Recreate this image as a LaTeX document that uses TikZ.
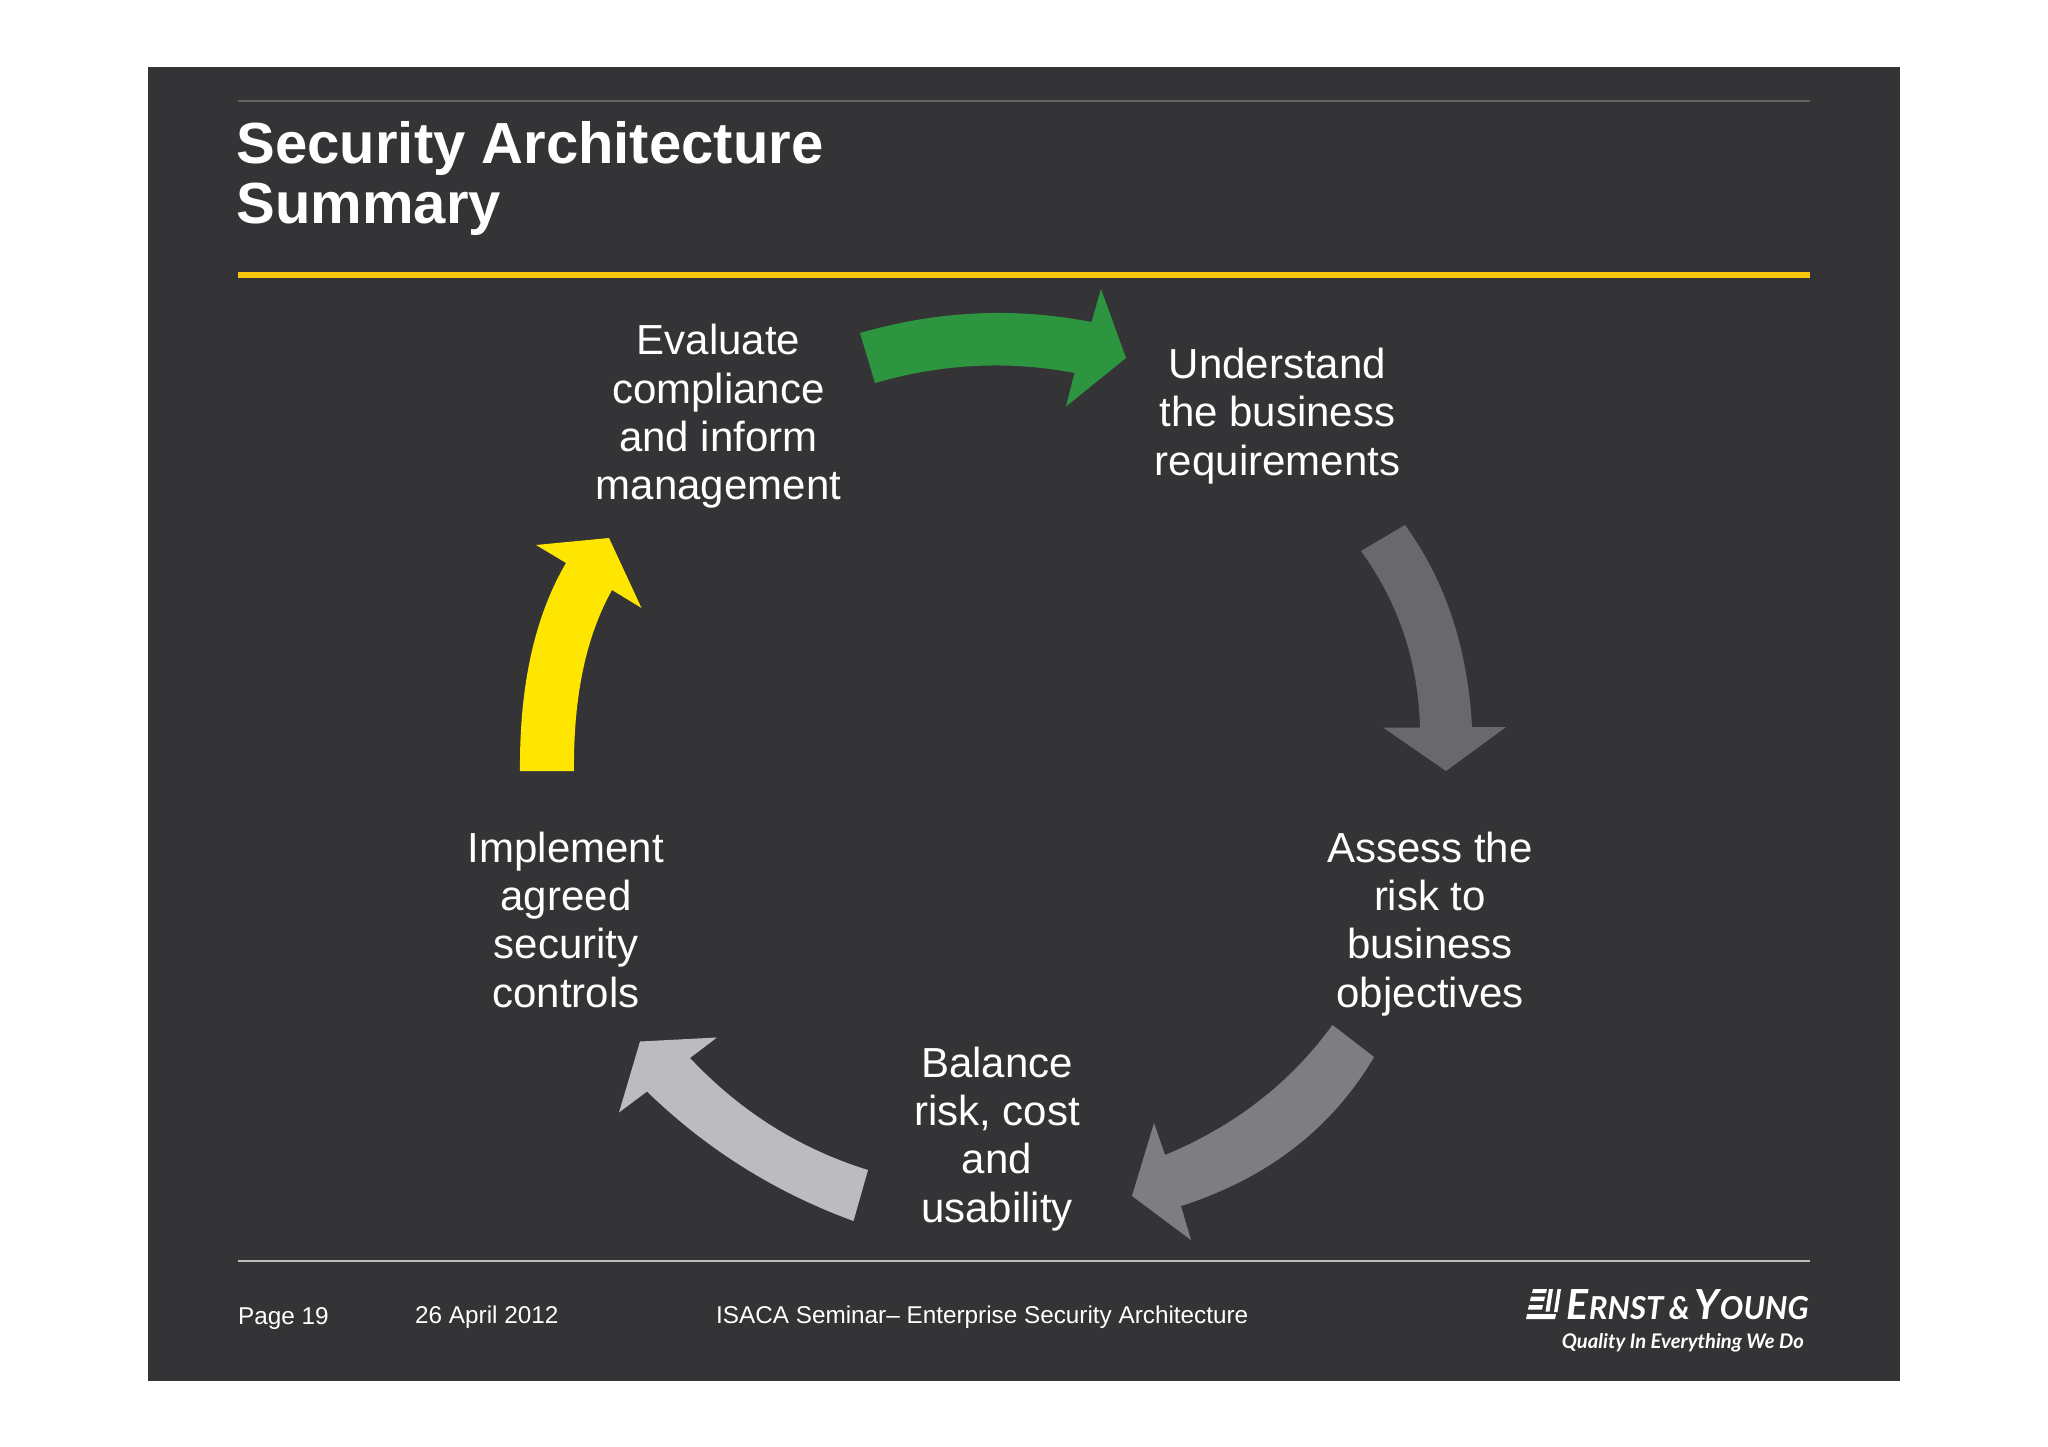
\documentclass[tikz,border=0pt]{standalone}
\usepackage{fontspec}
\usepackage{graphicx}
\setmainfont{Liberation Sans}
\newfontfamily\logofont{Lato}
\definecolor{panel}{HTML}{343335}
\definecolor{arrowA}{HTML}{69686C}
\definecolor{arrowB}{HTML}{7E7D81}
\definecolor{arrowC}{HTML}{BCBBBF}
\definecolor{arrowD}{HTML}{FFE600}
\definecolor{arrowE}{HTML}{2D953F}
\definecolor{gold}{HTML}{F8C60C}
\definecolor{toprule}{HTML}{626262}
\definecolor{lowrule}{HTML}{BDBDBD}
\tikzset{
  steptext/.style={text=white,inner sep=0pt,align=center,font=\fontsize{42}{48.3}\selectfont},
  foottext/.style={text=white,inner sep=0pt,anchor=base west,font=\fontsize{24.3}{28}\selectfont},
  titletext/.style={text=white,inner sep=0pt,anchor=base west,font=\fontsize{58}{60}\bfseries\selectfont},
}
\newcommand{\tln}[1]{\strut #1\strut}
\begin{document}
\begin{tikzpicture}[x=1pt,y=-1pt]
\useasboundingbox (0,0) rectangle (2048,1447);
\fill[white] (0,0) rectangle (2048,1447);
\fill[panel] (148,67) rectangle (1900,1381);
\fill[toprule] (238,100) rectangle (1810,102);
\fill[gold] (238,272.3) rectangle (1810,277.7);
\fill[lowrule] (238,1259.5) rectangle (1810,1262);
% title
\node[titletext] (title1) at (236.5,164) {Security Architecture};
\node[titletext] (title2) at (236.5,224) {Summary};
% step texts
\node[steptext] (evaluate) at (718.5,417.5) {\tln{Evaluate}\\\tln{compliance}\\\tln{and inform}\\\tln{management}};
\node[steptext] (understand) at (1277.5,417.3) {\tln{Understand}\\\tln{the business}\\\tln{requirements}};
\node[steptext] (assess) at (1430,925) {\tln{Assess the}\\\tln{risk to}\\\tln{business}\\\tln{objectives}};
\node[steptext] (balance) at (997,1140) {\tln{Balance}\\\tln{risk, cost}\\\tln{and}\\\tln{usability}};
\node[steptext] (implement) at (566,925) {\tln{Implement}\\\tln{agreed}\\\tln{security}\\\tln{controls}};
% block arrows
\fill[arrowE] (860,333) .. controls (937.5,310.7) and (1014.5,307) .. (1091.5,322) -- (1101,289) -- (1126,358) -- (1066,406.5) -- (1074.5,373) .. controls (1008.3,360.3) and (941.8,363.7) .. (875,383) -- cycle;
\fill[arrowA] (1405,525) .. controls (1445.3,580.7) and (1467.7,647.7) .. (1472,727) -- (1506,727) -- (1446,771) -- (1383,727.5) -- (1420,727.5) .. controls (1418.3,661.7) and (1398.7,603) .. (1361,551) -- cycle;
\fill[arrowB] (1332.5,1025) -- (1374,1057) .. controls (1331.7,1128.7) and (1267.3,1178.3) .. (1181,1206) -- (1191,1240) -- (1132,1196) -- (1154,1123) -- (1165,1155) .. controls (1234.5,1126.3) and (1290.3,1083) .. (1332.5,1025) -- cycle;
\fill[arrowC] (868,1170) -- (853.5,1221) .. controls (775,1192.3) and (706.2,1149) .. (647,1091.5) -- (619,1112.5) -- (640,1041.5) -- (717,1037.5) -- (690,1058) .. controls (740,1111.3) and (799.3,1148.7) .. (868,1170) -- cycle;
\fill[arrowD] (520,771) .. controls (519.3,685.7) and (534.7,616.3) .. (566,563) -- (536,545) -- (609,538) -- (641.5,608) -- (612,590) .. controls (586,636.3) and (573.3,696.7) .. (574,771) -- cycle;
% footer
\node[foottext] (page) at (238,1324.5) {Page 19};
\node[foottext] (date) at (415,1323.5) {26 April 2012};
\node[foottext] (seminar) at (716,1323.5) {ISACA Seminar– Enterprise Security Architecture};
% logo
\fill[white] (1533,1289) -- (1547,1289) -- (1546,1293) -- (1532,1293) -- cycle
  (1531,1296.5) -- (1545,1296.5) -- (1544,1301) -- (1530,1301) -- cycle
  (1529,1305) -- (1543,1305) -- (1542,1309.5) -- (1528,1309.5) -- cycle
  (1527,1314) -- (1556,1314) -- (1555,1319) -- (1526,1319) -- cycle
  (1549,1289) -- (1553,1289) -- (1549.5,1311.5) -- (1545.5,1311.5) -- cycle
  (1557.5,1289) -- (1561,1289) -- (1557.5,1312) -- (1554,1312) -- cycle;
\node[text=white,inner sep=0pt,anchor=base east] (ey) at (1809,1319) {\resizebox{242pt}{30pt}{\logofont\bfseries\itshape\fontsize{42}{42}\selectfont E{\fontsize{32}{32}\selectfont RNST\,\&\,}Y{\fontsize{32}{32}\selectfont OUNG}}};
\node[text=white,inner sep=0pt,anchor=base east] (tag) at (1804,1348) {\resizebox{242pt}{!}{\logofont\bfseries\itshape\fontsize{22}{22}\selectfont Quality In Everything We Do}};
\end{tikzpicture}
\end{document}
